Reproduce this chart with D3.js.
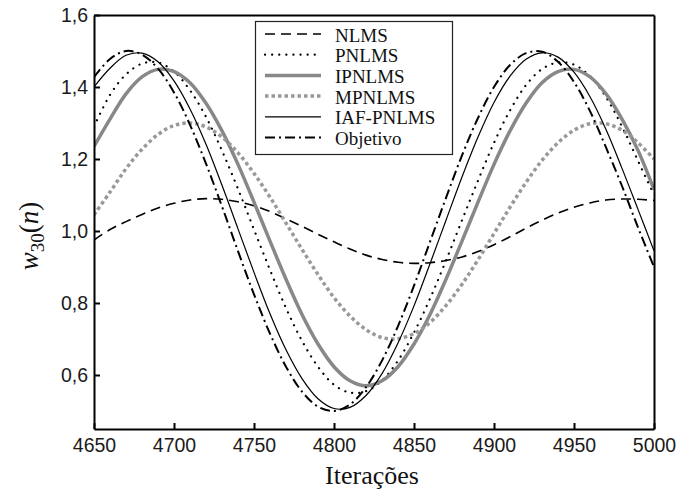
<!DOCTYPE html>
<html>
<head>
<meta charset="utf-8">
<script src="https://d3js.org/d3.v7.min.js"></script>
<style>
  body { margin: 0; background: #fff; }
  svg { display: block; }
</style>
</head>
<body>
<div id="chart"></div>
<script>
// Iterations sampled every 10 steps
const iterations = [4650, 4660, 4670, 4680, 4690, 4700, 4710, 4720, 4730, 4740, 4750, 4760,
  4770, 4780, 4790, 4800, 4810, 4820, 4830, 4840, 4850, 4860, 4870, 4880,
  4890, 4900, 4910, 4920, 4930, 4940, 4950, 4960, 4970, 4980, 4990, 5000];

// Values
const nlms = [0.975, 1.004, 1.026, 1.046, 1.064, 1.077, 1.086, 1.090, 1.088, 1.081, 1.070, 1.054,
  1.034, 1.013, 0.991, 0.970, 0.950, 0.933, 0.921, 0.913, 0.910, 0.912, 0.918, 0.928,
  0.943, 0.962, 0.984, 1.008, 1.030, 1.050, 1.066, 1.078, 1.086, 1.089, 1.088, 1.085];
const pnlms = [1.290, 1.378, 1.435, 1.465, 1.468, 1.443, 1.391, 1.317, 1.223, 1.117, 1.004, 0.892,
  0.786, 0.695, 0.623, 0.573, 0.551, 0.555, 0.585, 0.640, 0.718, 0.812, 0.918, 1.030,
  1.140, 1.245, 1.335, 1.405, 1.450, 1.468, 1.462, 1.430, 1.372, 1.290, 1.195, 1.100];
const ipnlms = [1.235, 1.311, 1.381, 1.428, 1.449, 1.443, 1.412, 1.355, 1.278, 1.185, 1.080, 0.972,
  0.866, 0.768, 0.686, 0.623, 0.584, 0.570, 0.584, 0.623, 0.686, 0.768, 0.866, 0.972,
  1.080, 1.185, 1.278, 1.355, 1.412, 1.443, 1.449, 1.428, 1.381, 1.311, 1.224, 1.115];
const mpnlms = [1.045, 1.108, 1.173, 1.227, 1.268, 1.293, 1.300, 1.289, 1.261, 1.217, 1.160, 1.094,
  1.022, 0.949, 0.879, 0.815, 0.764, 0.726, 0.704, 0.701, 0.715, 0.746, 0.793, 0.852,
  0.920, 0.993, 1.066, 1.135, 1.196, 1.245, 1.280, 1.298, 1.298, 1.280, 1.245, 1.200];
const iafpnlms = [1.400, 1.452, 1.488, 1.494, 1.470, 1.417, 1.339, 1.241, 1.127, 1.006, 0.885, 0.770,
  0.670, 0.590, 0.534, 0.507, 0.510, 0.543, 0.604, 0.689, 0.792, 0.909, 1.030, 1.150,
  1.261, 1.357, 1.430, 1.477, 1.495, 1.483, 1.441, 1.373, 1.282, 1.174, 1.060, 0.945];
const objetivo = [1.427, 1.478, 1.500, 1.490, 1.451, 1.385, 1.295, 1.187, 1.068, 0.944, 0.824, 0.715,
  0.623, 0.554, 0.512, 0.500, 0.518, 0.566, 0.640, 0.736, 0.848, 0.970, 1.092, 1.210,
  1.314, 1.400, 1.461, 1.494, 1.498, 1.470, 1.414, 1.333, 1.232, 1.125, 1.010, 0.900];

const seriesNames = ['NLMS', 'PNLMS', 'IPNLMS', 'MPNLMS', 'IAF-PNLMS', 'Objetivo'];
const seriesValues = [nlms, pnlms, ipnlms, mpnlms, iafpnlms, objetivo];
const xTicks = [4650, 4700, 4750, 4800, 4850, 4900, 4950, 5000];
const yTicks = [0.6, 0.8, 1.0, 1.2, 1.4, 1.6];

// line styles per series
const styles = [
  { color: '#000', width: 1.6, dash: '10,6', cap: 'butt' },
  { color: '#000', width: 2.2, dash: '0.1,7', cap: 'round' },
  { color: '#888', width: 3.5, dash: null, cap: 'butt' },
  { color: '#999', width: 3.5, dash: '3.5,3', cap: 'butt' },
  { color: '#000', width: 1.2, dash: null, cap: 'butt' },
  { color: '#000', width: 2, dash: '10,4,2,4', cap: 'butt' }
];

const W = 676, H = 489;
const margin = { top: 15, right: 22, bottom: 60, left: 94 };

const svg = d3.select('#chart').append('svg')
  .attr('width', W)
  .attr('height', H);

const x = d3.scaleLinear().domain([4650, 5000]).range([margin.left, W - margin.right]);
const y = d3.scaleLinear().domain([0.45, 1.6]).range([H - margin.bottom, margin.top]);

// clip lines to the plot area
svg.append('clipPath').attr('id', 'clip')
  .append('rect')
  .attr('x', margin.left).attr('y', margin.top)
  .attr('width', W - margin.left - margin.right)
  .attr('height', H - margin.top - margin.bottom);

const line = d3.line()
  .x((d) => x(d[0]))
  .y((d) => y(d[1]))
  .curve(d3.curveCatmullRom.alpha(0.5));

const plot = svg.append('g').attr('clip-path', 'url(#clip)');
seriesValues.forEach((vals, i) => {
  const st = styles[i];
  plot.append('path')
    .datum(iterations.map((n, j) => [n, vals[j]]))
    .attr('fill', 'none')
    .attr('stroke', st.color)
    .attr('stroke-width', st.width)
    .attr('stroke-dasharray', st.dash)
    .attr('stroke-linecap', st.cap)
    .attr('d', line);
});

// axes, ticks pointing inward
const fmt = (d) => d.toFixed(1).replace('.', ',');

svg.append('g')
  .attr('transform', `translate(0,${H - margin.bottom})`)
  .call(d3.axisBottom(x).tickValues(xTicks).tickSizeInner(-6).tickSizeOuter(0).tickPadding(9).tickFormat(d3.format('d')));

svg.append('g')
  .attr('transform', `translate(${margin.left},0)`)
  .call(d3.axisLeft(y).tickValues(yTicks).tickSizeInner(-6).tickSizeOuter(0).tickPadding(6).tickFormat(fmt));

svg.append('g')
  .attr('transform', `translate(0,${margin.top})`)
  .call(d3.axisTop(x).tickValues([]).tickSizeOuter(0));
svg.append('g')
  .attr('transform', `translate(${W - margin.right},0)`)
  .call(d3.axisRight(y).tickValues([]).tickSizeOuter(0));

svg.selectAll('.domain').attr('stroke', '#000').attr('stroke-width', 2);
svg.selectAll('.tick line').attr('stroke', '#000').attr('stroke-width', 2);
svg.selectAll('.tick text')
  .attr('font-family', 'Liberation Sans, Arial, sans-serif')
  .attr('font-size', 19.5)
  .attr('fill', '#1a1a1a');

// axis titles
svg.append('text')
  .attr('x', 372)
  .attr('y', 484)
  .attr('text-anchor', 'middle')
  .attr('font-family', 'Liberation Serif, Times New Roman, serif')
  .attr('font-size', 26)
  .attr('fill', '#111')
  .text('Iterações');

const yl = svg.append('text')
  .attr('transform', 'translate(38,236) rotate(-90)')
  .attr('text-anchor', 'middle')
  .attr('font-family', 'Liberation Serif, Times New Roman, serif')
  .attr('font-size', 27)
  .attr('fill', '#111');
yl.append('tspan').attr('font-style', 'italic').text('w');
yl.append('tspan').attr('font-size', 19).attr('dy', 6).text('30');
yl.append('tspan').attr('dy', -6).text('(');
yl.append('tspan').attr('font-style', 'italic').text('n');
yl.append('tspan').text(')');

// legend
const legend = svg.append('g');
legend.append('rect')
  .attr('x', 255.5).attr('y', 21.5)
  .attr('width', 197).attr('height', 133)
  .attr('fill', '#fff')
  .attr('stroke', '#222')
  .attr('stroke-width', 1.2);

seriesNames.forEach((name, i) => {
  const st = styles[i];
  const base = 41.5 + i * 20.7;
  legend.append('line')
    .attr('x1', 265).attr('x2', 321)
    .attr('y1', base - 7.5).attr('y2', base - 7.5)
    .attr('stroke', st.color)
    .attr('stroke-width', st.width)
    .attr('stroke-dasharray', st.dash)
    .attr('stroke-linecap', st.cap);
  legend.append('text')
    .attr('x', 335)
    .attr('y', base)
    .attr('font-family', 'Liberation Serif, Times New Roman, serif')
    .attr('font-size', 19)
    .attr('fill', '#111')
    .text(name);
});
</script>
</body>
</html>
